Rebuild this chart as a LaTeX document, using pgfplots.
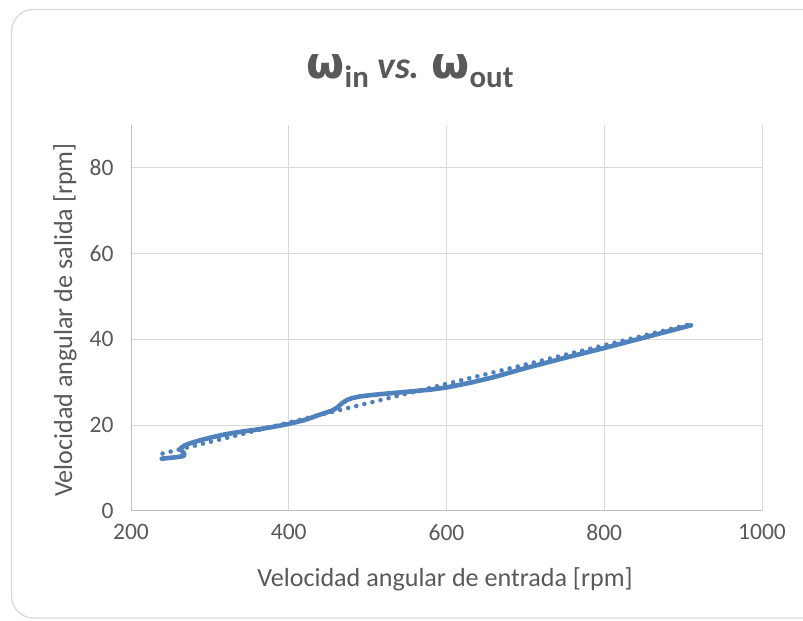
\documentclass[border=0pt]{standalone}
\usepackage{fontspec}
\setmainfont{Carlito}
\newfontfamily\omegafont{DejaVu Sans}
\usepackage{pgfplots}
\pgfplotsset{compat=1.18}
\definecolor{lineblue}{HTML}{4F81BD}
\definecolor{txtgray}{HTML}{595959}
\definecolor{gridgray}{HTML}{D9D9D9}
\definecolor{axgray}{HTML}{BFBFBF}
\begin{document}
\begin{tikzpicture}[x=1bp,y=1bp]
\clip (0,0) rectangle (803,621);
\draw[gridgray, line width=1.3bp, rounded corners=22bp] (11.5,3) rectangle (840,611.5);
\begin{axis}[
  at={(131bp,110bp)}, anchor=south west,
  scale only axis, width=631bp, height=386bp,
  xmin=200, xmax=1000, ymin=0, ymax=90,
  xtick={200,400,600,800,1000}, ytick={0,20,40,60,80},
  grid=major, major grid style={draw=gridgray, line width=1bp},
  axis x line*=bottom, axis y line*=left,
  axis line style={draw=axgray, line width=1bp, -},
  major tick length=0pt, tick style={draw=none},
  /pgf/number format/assume math mode=true,
  /pgf/number format/1000 sep={},
  ticklabel style={font=\fontsize{23.6}{28}\selectfont, text=txtgray},
  xticklabel style={yshift=-10bp},
  yticklabel style={xshift=-14bp},
]
\addplot[lineblue, line width=4.6bp, line cap=round, dash pattern=on 0.01bp off 8.3bp] coordinates {(240,13.4) (910,43.6)};
\addplot[lineblue, line width=4.6bp, line join=round, line cap=round] coordinates {
(239,12.2) (250,12.4) (260,12.6) (266,12.8) (268,13.1) (267,13.5) (265,13.9) (263,14.3) (264,14.8) (268,15.3) (275,15.8) (290,16.6) (305,17.3) (320,17.9) (340,18.5) (360,19.0) (380,19.6) (400,20.3) (420,21.2) (440,22.5) (455,23.4) (462,24.2) (468,25.2) (474,25.9) (480,26.3) (490,26.7) (503,27.0) (520,27.3) (550,27.8) (580,28.3) (600,28.8) (630,29.9) (660,31.2) (700,33.3) (750,35.7) (800,38.0) (850,40.4) (910,43.3)};
\end{axis}
\node[anchor=base, text=txtgray] at (410,542) {\fontsize{38}{44}\selectfont\bfseries {\omegafont\fontsize{44}{50}\selectfont ω}\raisebox{-0.22em}{\fontsize{31}{36}\selectfont in} \textit{vs.} {\omegafont\fontsize{44}{50}\selectfont ω}\raisebox{-0.22em}{\fontsize{31}{36}\selectfont out}};
\node[anchor=base, text=txtgray] at (445,34) {\fontsize{26.2}{31}\selectfont Velocidad angular de entrada [rpm]};
\node[anchor=base, rotate=90, text=txtgray] at (72,301) {\fontsize{26.2}{31}\selectfont Velocidad angular de salida [rpm]};
\end{tikzpicture}
\end{document}
